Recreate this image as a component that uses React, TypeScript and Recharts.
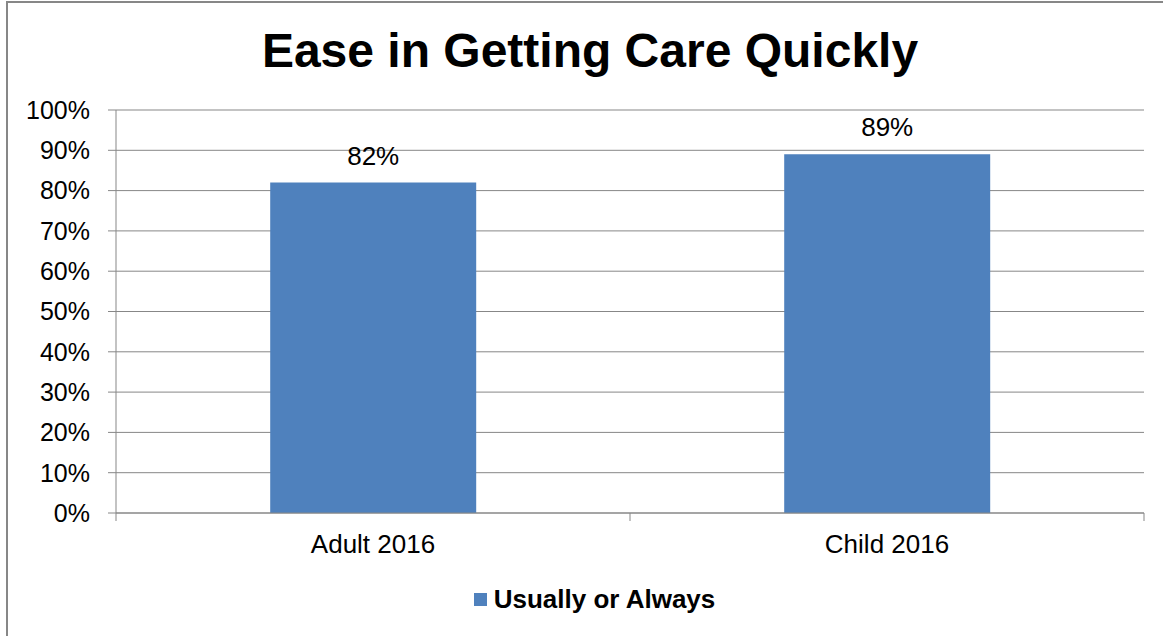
import React from 'react';
import { BarChart, Bar, XAxis, YAxis, CartesianGrid, LabelList, Legend } from 'recharts';

const categories = ['Adult 2016', 'Child 2016'];
const usuallyOrAlways = [82, 89];
const yTicks = [0, 10, 20, 30, 40, 50, 60, 70, 80, 90, 100];
const seriesName = 'Usually or Always';
const title = 'Ease in Getting Care Quickly';

const data = categories.map((name, i) => ({ name, value: usuallyOrAlways[i] }));

const W = 1163;
const H = 636;
const Y_W = 116;
const MARGIN = { top: 110, right: 19, bottom: 83, left: 0 };
const FONT = 'Arial, "Liberation Sans", sans-serif';
const GRAY = '#878787';
const BLUE = '#4F81BD';

const CategoryTick = (props: any) => {
  const { x, y, payload, index, visibleTicksCount } = props;
  const fallback = (W - MARGIN.left - MARGIN.right - Y_W) / categories.length / 2;
  const off = payload && payload.offset ? payload.offset : fallback;
  const last = index === (visibleTicksCount ?? categories.length) - 1;
  return (
    <g>
      <line x1={x - off} x2={x - off} y1={y} y2={y + 8} stroke={GRAY} />
      {last && <line x1={x + off} x2={x + off} y1={y} y2={y + 8} stroke={GRAY} />}
      <text x={x} y={y + 40} textAnchor="middle" fill="#000" fontSize={26} fontFamily={FONT}>
        {payload.value}
      </text>
    </g>
  );
};

const LegendContent = () => (
  <div style={{ display: 'flex', alignItems: 'center', justifyContent: 'center', fontFamily: FONT }}>
    <span style={{ display: 'inline-block', width: 13, height: 13, background: BLUE, marginRight: 7 }} />
    <span style={{ fontSize: 26, fontWeight: 'bold', color: '#000' }}>{seriesName}</span>
  </div>
);

export default function App() {
  return (
    <div style={{ position: 'absolute', left: 0, top: 0, width: W, height: H, background: '#fff' }}>
      <div
        style={{
          position: 'absolute', left: 6, top: 1, width: W - 6, height: H - 1,
          boxSizing: 'border-box', borderLeft: `2px solid ${GRAY}`, borderTop: `2px solid ${GRAY}`,
        }}
      />
      <div
        style={{
          position: 'absolute', left: 17, top: 27, width: 1146, textAlign: 'center',
          fontFamily: FONT, fontSize: 48, fontWeight: 'bold', lineHeight: '48px', color: '#000',
        }}
      >
        {title}
      </div>
      <div style={{ position: 'absolute', left: 0, top: 0 }}>
        <BarChart width={W} height={H} data={data} margin={MARGIN} barCategoryGap="30%">
          <CartesianGrid vertical={false} stroke={GRAY} strokeDasharray="" />
          <XAxis
            dataKey="name"
            height={40}
            axisLine={{ stroke: GRAY }}
            tickLine={false}
            tickSize={0}
            tickMargin={0}
            interval={0}
            tick={<CategoryTick />}
          />
          <YAxis
            width={Y_W}
            domain={[0, 100]}
            ticks={yTicks}
            interval={0}
            tickFormatter={(v: number) => `${v}%`}
            axisLine={{ stroke: GRAY }}
            tickLine={{ stroke: GRAY }}
            tickSize={8}
            tickMargin={18}
            tick={{ fill: '#000', fontSize: 25, fontFamily: FONT }}
          />
          <Legend
            verticalAlign="middle"
            align="center"
            content={<LegendContent />}
            wrapperStyle={{ position: 'absolute', left: 0, top: 584, width: 1189, height: 30 }}
          />
          <Bar dataKey="value" name={seriesName} fill={BLUE} isAnimationActive={false}>
            <LabelList
              dataKey="value"
              position="top"
              offset={18}
              formatter={(v: any) => `${v}%`}
              fill="#000"
              fontSize={26}
              fontFamily={FONT}
            />
          </Bar>
        </BarChart>
      </div>
    </div>
  );
}
